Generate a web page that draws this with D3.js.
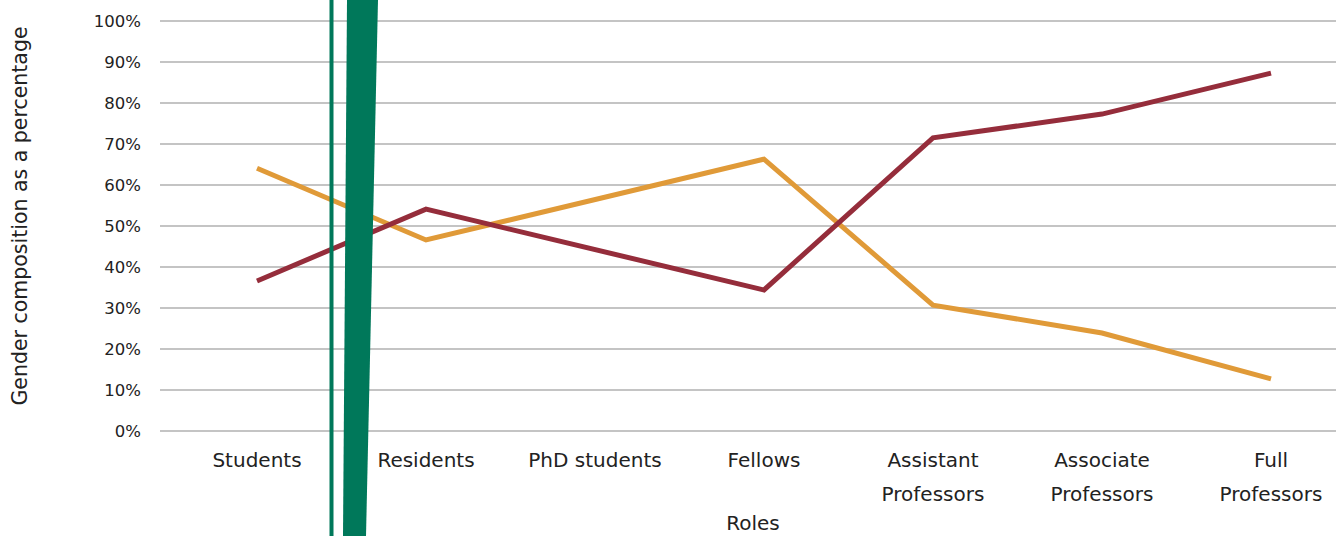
<!DOCTYPE html>
<html>
<head>
<meta charset="utf-8">
<script src="https://cdn.jsdelivr.net/npm/d3@7"></script>
<style>
  body { margin: 0; background: #fff; }
  text { font-family: "DejaVu Sans", sans-serif; fill: #222; }
</style>
</head>
<body>
<div id="viz"></div>
<script>
const domID = "#viz"
const width = 1336, height = 536

// Data
const categories = ["Students", "Residents", "PhD students", "Fellows", "Assistant Professors", "Associate Professors", "Full Professors"]
const maroonSeries = [36.6, 54.1, null, 34.4, 71.5, 77.3, 87.3]
const orangeSeries = [64.1, 46.6, null, 66.3, 30.7, 23.9, 12.7]
const yTicks = [0, 10, 20, 30, 40, 50, 60, 70, 80, 90, 100]

const colors = {
    maroon: "#952d3b",
    orange: "#e09a38",
    grid: "#b0b0b0",
    green: "#00785a",
}

const margin = { top: 21, right: 0, bottom: 105, left: 160 }

let svg = d3.select(domID).append("svg")
    .attr("width", width)
    .attr("height", height)

const x = d3.scalePoint().domain(categories).range([257, 1271])
const y = d3.scaleLinear().domain([0, 100]).range([height - margin.bottom, margin.top])

// Gridlines
svg.append("g").selectAll("line").data(yTicks).join("line")
    .attr("x1", margin.left).attr("x2", width)
    .attr("y1", d => y(d)).attr("y2", d => y(d))
    .attr("stroke", colors.grid).attr("stroke-width", 1.5)

// Y tick labels
svg.append("g").selectAll("text").data(yTicks).join("text")
    .attr("x", 141).attr("y", d => y(d))
    .attr("dy", "0.35em")
    .attr("text-anchor", "end")
    .style("font-size", "16.5px")
    .text(d => d + "%")

// Category labels (wrap into two lines where needed)
const catLabels = svg.append("g").selectAll("text").data(categories).join("text")
    .attr("x", d => x(d))
    .attr("y", 467)
    .attr("text-anchor", "middle")
    .style("font-size", "20px")
catLabels.each(function(d) {
    const words = d.includes("Professors") ? d.split(" ") : [d]
    d3.select(this).selectAll("tspan").data(words).join("tspan")
        .attr("x", x(d))
        .attr("dy", (w, i) => i === 0 ? 0 : 34)
        .text(w => w)
})

// Axis titles
svg.append("text")
    .attr("x", 753).attr("y", 530)
    .attr("text-anchor", "middle")
    .style("font-size", "20px")
    .text("Roles")

svg.append("text")
    .attr("transform", "translate(27,216) rotate(-90)")
    .attr("text-anchor", "middle")
    .style("font-size", "20.5px")
    .text("Gender composition as a percentage")

// Lines
const line = d3.line()
    .x(d => x(d.cat))
    .y(d => y(d.v))

const drawSeries = (values, color) => {
    const pts = categories.map((c, i) => ({ cat: c, v: values[i] })).filter(d => d.v != null)
    svg.append("path").datum(pts)
        .attr("d", line)
        .attr("fill", "none")
        .attr("stroke", color)
        .attr("stroke-width", 5)
        .attr("stroke-linejoin", "miter")
}
drawSeries(orangeSeries, colors.orange)
drawSeries(maroonSeries, colors.maroon)

// Green decoration overlapping the chart
svg.append("rect")
    .attr("x", 329.5).attr("y", 0).attr("width", 4).attr("height", height)
    .attr("fill", colors.green)
svg.append("polygon")
    .attr("points", `347,0 378,0 366,${height} 343,${height}`)
    .attr("fill", colors.green)
</script>
</body>
</html>
